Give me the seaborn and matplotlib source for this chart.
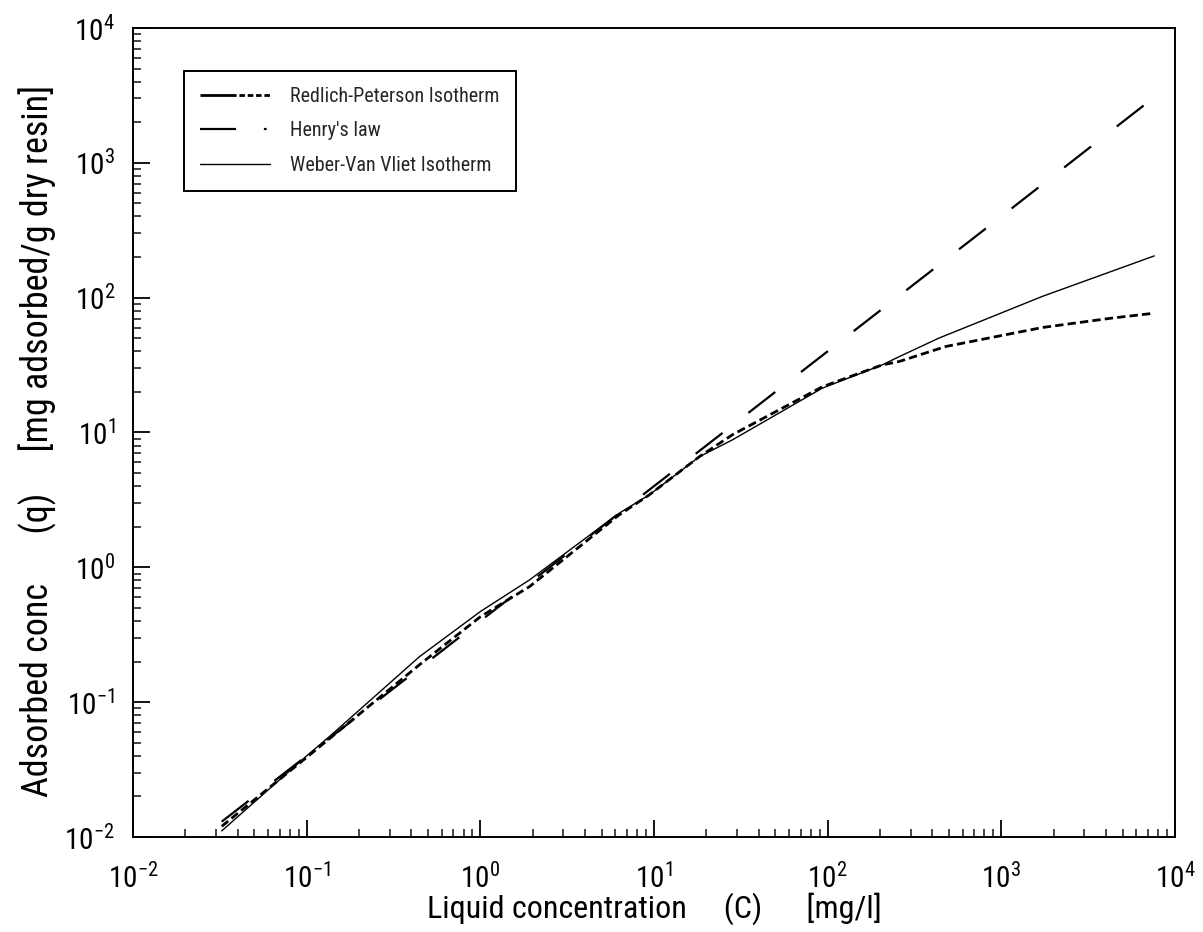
import matplotlib
matplotlib.use("Agg")
import matplotlib.pyplot as plt
from matplotlib import font_manager
from matplotlib.lines import Line2D
from matplotlib.ticker import LogLocator
import pandas as pd
import seaborn as sns

# Isotherm curves: liquid concentration C [mg/l] vs adsorbed concentration q [mg/g]
henry_c = [0.0324, 0.1, 1.0, 10.0, 100.0, 1000.0, 6700.0]
henry_q = [0.013, 0.040, 0.40, 4.0, 40.0, 400.0, 2700.0]

redlich_c = [0.0324, 0.1, 0.136, 0.447, 1.0, 1.92, 6.3, 9.4, 18.2, 28.2,
             93.0, 206.0, 258.0, 478.0, 1717.0, 4317.0, 7600.0]
redlich_q = [0.012, 0.039, 0.054, 0.19, 0.43, 0.72, 2.45, 3.45, 6.6, 9.6,
             21.8, 31.7, 33.6, 43.4, 60.0, 70.5, 76.7]

weber_c = [0.0324, 0.1, 0.136, 0.447, 1.0, 1.92, 6.3, 9.4, 18.2, 28.2,
           93.0, 206.0, 258.0, 437.0, 1717.0, 7600.0]
weber_q = [0.0111, 0.040, 0.056, 0.218, 0.47, 0.807, 2.52, 3.45, 6.6, 8.8,
           21.3, 31.7, 36.5, 50.1, 102.0, 204.0]

series_names = ["Redlich-Peterson Isotherm", "Henry's law", "Weber-Van Vliet Isotherm"]

decades = [1e-2, 1e-1, 1e0, 1e1, 1e2, 1e3, 1e4]

xlabel_text = "Liquid concentration     (C)      [mg/l]"
ylabel_text = "Adsorbed conc      (q)     [mg adsorbed/g dry resin]"

df = pd.concat([
    pd.DataFrame({"C": redlich_c, "q": redlich_q, "model": series_names[0]}),
    pd.DataFrame({"C": henry_c, "q": henry_q, "model": series_names[1]}),
    pd.DataFrame({"C": weber_c, "q": weber_q, "model": series_names[2]}),
], ignore_index=True)

sns.set_theme(style="ticks")

available = {f.name for f in font_manager.fontManager.ttflist}
family = "DejaVu Sans"
for cand in ["Liberation Sans Narrow", "DejaVu Sans Condensed", "Roboto Condensed"]:
    if cand in available:
        family = cand
        break
plt.rcParams["font.family"] = [family, "DejaVu Sans"]
plt.rcParams["mathtext.default"] = "regular"
plt.rcParams["lines.scale_dashes"] = False

fig = plt.figure(figsize=(12.03, 9.32), dpi=100)
ax = fig.add_axes([0.1106, 0.1019, 0.8661, 0.8681])

styles = {
    series_names[0]: (0, (6, 3)),
    series_names[1]: (0, (24.5, 23.5)),
    series_names[2]: "",
}
widths = {series_names[0]: 2.0, series_names[1]: 1.6, series_names[2]: 1.0}

for name in series_names:
    sub = df[df["model"] == name]
    sns.lineplot(data=sub, x="C", y="q", ax=ax, color="black",
                 estimator=None, sort=False, legend=False,
                 linewidth=widths[name])
    line = ax.lines[-1]
    if styles[name] != "":
        line.set_linestyle(styles[name])

ax.set_xscale("log")
ax.set_yscale("log")
ax.set_xlim(decades[0], decades[-1])
ax.set_ylim(decades[0], decades[-1])
ax.set_xticks(decades)
ax.set_yticks(decades)
ax.xaxis.set_minor_locator(LogLocator(base=10, subs=range(2, 10)))
ax.yaxis.set_minor_locator(LogLocator(base=10, subs=range(2, 10)))

for s in ax.spines.values():
    s.set_linewidth(1.4)
    s.set_color("black")

ax.tick_params(axis="x", which="major", direction="in", length=12, width=1.3,
               labelsize=21, color="black", labelcolor="black", pad=19,
               top=False)
ax.tick_params(axis="y", which="major", direction="in", length=12, width=1.3,
               labelsize=21, color="black", labelcolor="black", pad=13,
               right=False)
ax.tick_params(axis="both", which="minor", direction="in", length=6, width=1.2,
               top=False, right=False, labelbottom=False, labelleft=False)

ax.set_xlabel(xlabel_text, fontsize=23, color="black")
ax.set_ylabel(ylabel_text, fontsize=26, color="black")
ax.xaxis.set_label_coords(0.5, -0.068)
ax.yaxis.set_label_coords(-0.073, 0.49)

handles = [
    Line2D([], [], color="black", linewidth=2.0,
           linestyle=(0, (26, 2, 4, 2, 4, 2, 4, 2, 4, 2))),
    Line2D([], [], color="black", linewidth=1.6, linestyle=(0, (26, 20, 2, 40))),
    Line2D([], [], color="black", linewidth=1.0),
]
leg = ax.legend(handles, series_names, loc="upper left",
                bbox_to_anchor=(0.049, 0.9468), borderaxespad=0,
                fontsize=14.5, handlelength=3.5, handletextpad=1.0,
                labelspacing=0.78, borderpad=0.78, fancybox=False,
                framealpha=1, edgecolor="black")
leg.get_frame().set_linewidth(1.4)

fig.savefig("out.png", dpi=100, facecolor="white")
